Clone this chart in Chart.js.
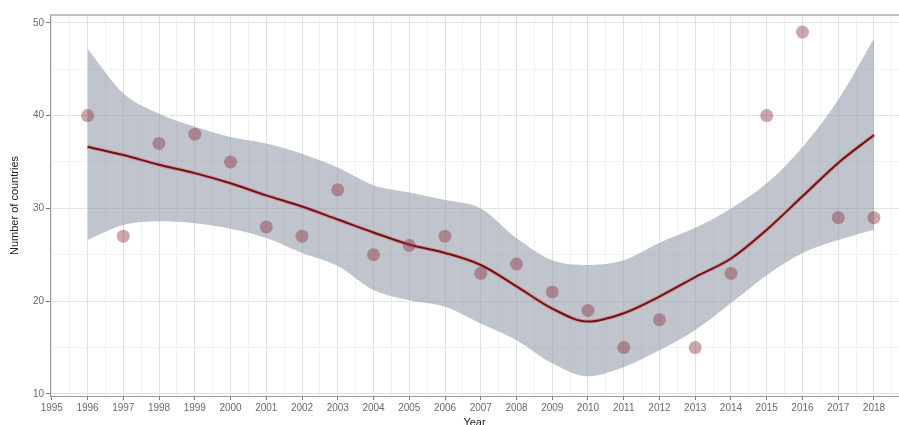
<!DOCTYPE html>
<html>
<head>
<meta charset="utf-8">
<script src="https://cdn.jsdelivr.net/npm/chart.js@4.4.1/dist/chart.umd.min.js"></script>
<style>
  html, body { margin:0; padding:0; background:#fff; overflow:hidden; }
  #wrap { width:899px; height:432px; position:relative; }
</style>
</head>
<body>
<div id="wrap"><canvas id="chart"></canvas></div>
<script>
/* ── data ────────────────────────────────────────────────── */
const years      = [1996,1997,1998,1999,2000,2001,2002,2003,2004,2005,2006,2007,2008,2009,2010,2011,2012,2013,2014,2015,2016,2017,2018];
const countries  = [40,27,37,38,35,28,27,32,25,26,27,23,24,21,19,15,18,15,23,40,49,29,29];
const fitLine    = [36.65,35.75,34.7,33.8,32.7,31.4,30.2,28.8,27.4,26.1,25.2,23.9,21.6,19.2,17.8,18.7,20.5,22.6,24.6,27.7,31.3,34.9,37.9];
const bandUpper  = [47.2,42.4,40.2,38.8,37.7,37.0,35.9,34.4,32.5,31.7,30.9,30.0,26.8,24.4,23.9,24.4,26.3,27.9,30.0,32.7,36.6,41.7,48.3];
const bandLower  = [26.6,28.2,28.6,28.4,27.8,26.8,25.2,23.8,21.2,20.1,19.4,17.6,15.8,13.3,11.9,12.9,14.7,16.9,19.8,22.8,25.2,26.6,27.7];

const xy = arr => years.map((y,i)=>({x:y, y:arr[i]}));

/* ── top panel border ────────────────────────────────────── */
const panelTop = {
  id:'panelTop',
  afterDraw(chart){
    const {ctx, chartArea:a} = chart;
    ctx.save();
    ctx.strokeStyle = '#a9a9a9';
    ctx.lineWidth = 1.5;
    ctx.beginPath();
    ctx.moveTo(a.left, a.top);
    ctx.lineTo(a.right, a.top);
    ctx.stroke();
    ctx.restore();
  }
};

const tickFont  = { family:'"Liberation Sans", Arial, sans-serif', size:10 };
const titleFont = { family:'"Liberation Sans", Arial, sans-serif', size:11 };

new Chart(document.getElementById('chart').getContext('2d'), {
  type: 'line',
  data: {
    datasets: [
      {
        label:'upper', data: xy(bandUpper),
        borderWidth:0, pointRadius:0,
        backgroundColor:'rgba(140,150,166,0.56)',
        fill:'+1', cubicInterpolationMode:'monotone', order:5
      },
      {
        label:'lower', data: xy(bandLower),
        borderWidth:0, pointRadius:0, fill:false,
        cubicInterpolationMode:'monotone', order:5
      },
      {
        label:'halo', data: xy(fitLine),
        borderColor:'rgba(214,128,132,0.65)', borderWidth:4,
        pointRadius:0, fill:false, cubicInterpolationMode:'monotone', order:4
      },
      {
        label:'fit', data: xy(fitLine),
        borderColor:'#6e1418', borderWidth:2,
        pointRadius:0, fill:false, cubicInterpolationMode:'monotone', order:3
      },
      {
        label:'countries', data: xy(countries),
        showLine:false, pointRadius:6.5, pointHoverRadius:6.5,
        pointBackgroundColor:'rgba(145,55,66,0.45)',
        pointBorderWidth:0, order:1
      }
    ]
  },
  options: {
    responsive:true, maintainAspectRatio:false, animation:false,
    layout:{ autoPadding:false, padding:{ top:15, right:0, left:0, bottom:0 } },
    plugins:{ legend:{display:false}, tooltip:{enabled:false} },
    scales:{
      x:{
        type:'linear', min:1994.95, max:2018.7,
        afterFit: s => { s.height = 36; s.paddingRight = 0; s.paddingLeft = 0; },
        border:{ display:true, color:'#9a9a9a', width:1 },
        grid:{
          color: c => Number.isInteger(c.tick.value) ? '#e2e2e2' : '#f1f1f1',
          tickColor: c => Number.isInteger(c.tick.value) ? '#777' : 'rgba(0,0,0,0)',
          tickLength:4
        },
        ticks:{
          stepSize:0.5, includeBounds:false, autoSkip:false, maxRotation:0,
          padding:2, color:'#6a6a6a', font:tickFont,
          callback: v => Number.isInteger(v) ? String(v) : ''
        },
        title:{ display:true, text:'Year', color:'#222', font:titleFont, padding:{top:0,bottom:2} }
      },
      y:{
        min:9.78, max:50.84,
        afterFit: s => { s.width = 50; },
        border:{ display:true, color:'#9a9a9a', width:1 },
        grid:{
          color: c => c.tick.value % 10 === 0 ? '#e2e2e2' : '#f1f1f1',
          tickColor: c => c.tick.value % 10 === 0 ? '#777' : 'rgba(0,0,0,0)',
          tickLength:4
        },
        ticks:{
          stepSize:5, includeBounds:false, padding:2, color:'#6a6a6a', font:tickFont,
          callback: v => v % 10 === 0 ? String(v) : ''
        },
        title:{ display:true, text:'Number of countries', color:'#222', font:titleFont, padding:{top:8,bottom:0} }
      }
    }
  },
  plugins:[panelTop]
});
</script>
</body>
</html>
